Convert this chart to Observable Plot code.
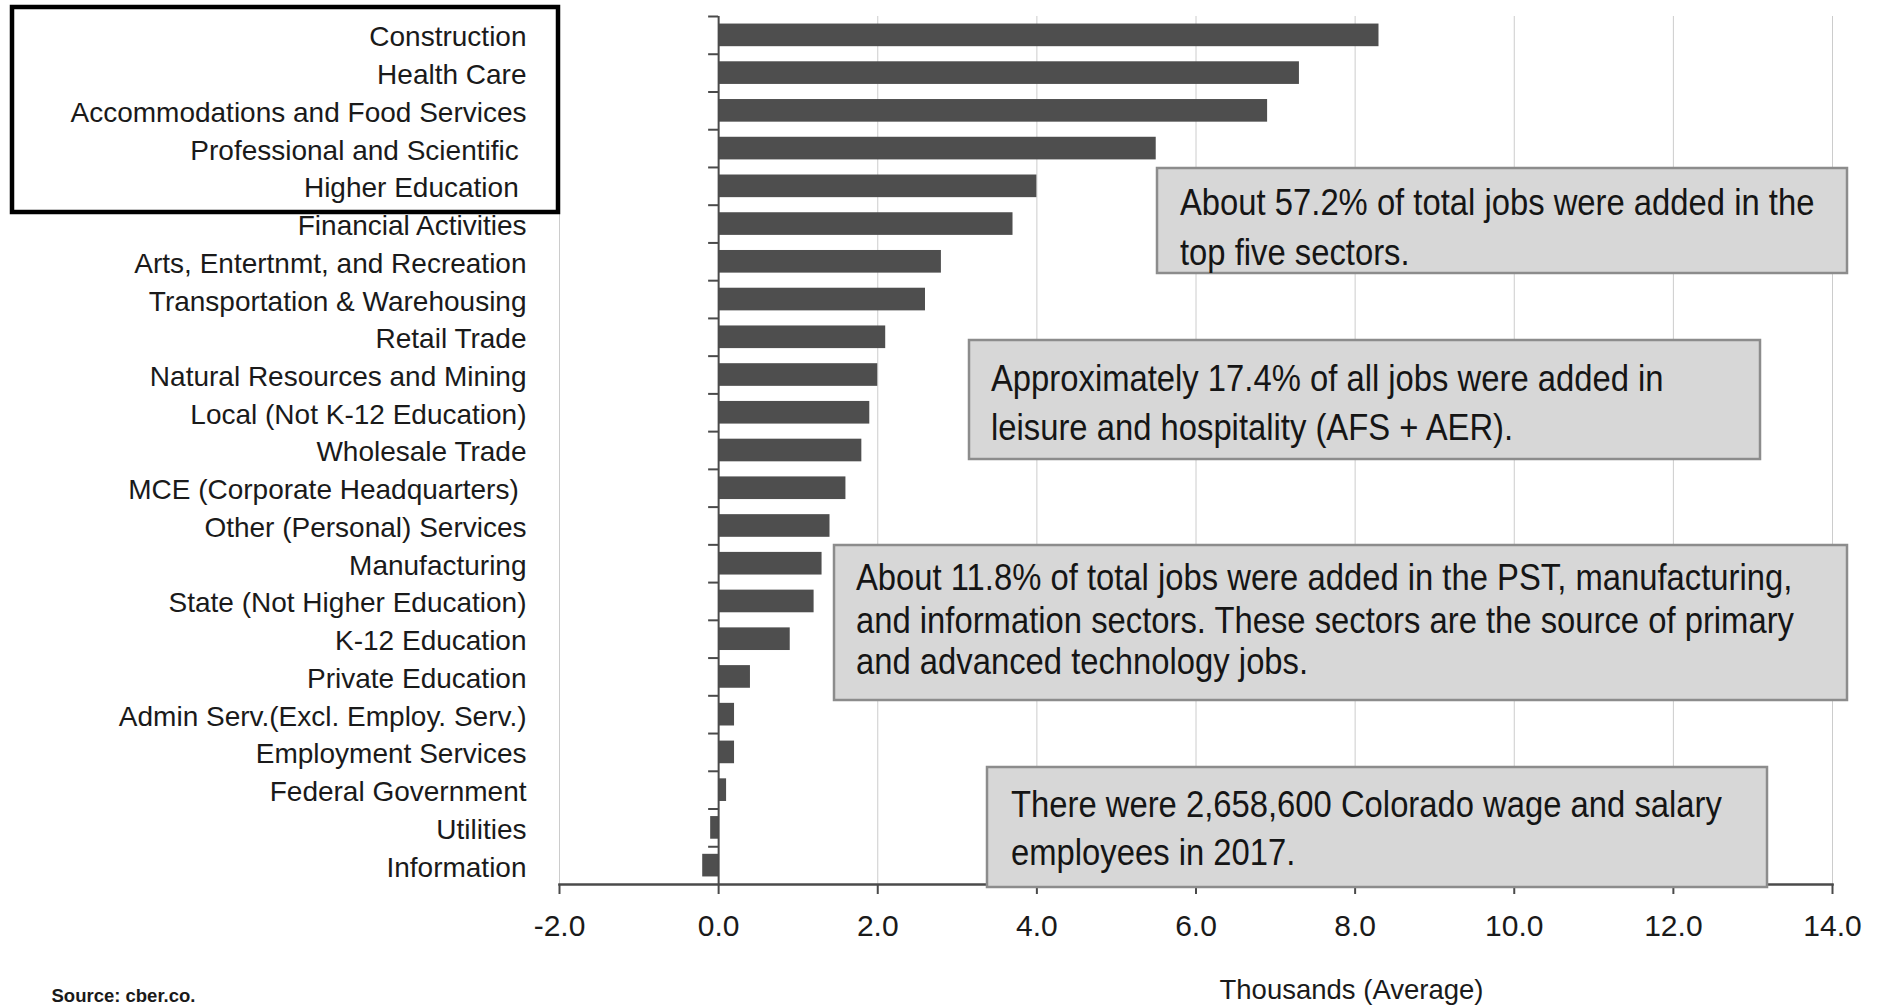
<!DOCTYPE html>
<html><head><meta charset="utf-8">
<script src="https://cdn.jsdelivr.net/npm/d3@7"></script>
<script src="https://cdn.jsdelivr.net/npm/@observablehq/plot@0.6"></script>
<style>
html,body{margin:0;padding:0;background:#fff;}
#chart{position:relative;width:1883px;height:1005px;overflow:hidden;}
</style></head><body><div id="chart"></div>
<script>
const sectors = [
  "Construction",
  "Health Care",
  "Accommodations and Food Services",
  "Professional and Scientific\u00a0",
  "Higher Education\u00a0",
  "Financial Activities",
  "Arts, Entertnmt, and Recreation",
  "Transportation & Warehousing",
  "Retail Trade",
  "Natural Resources and Mining",
  "Local (Not K-12 Education)",
  "Wholesale Trade",
  "MCE (Corporate Headquarters)\u00a0",
  "Other (Personal) Services",
  "Manufacturing",
  "State (Not Higher Education)",
  "K-12 Education",
  "Private Education",
  "Admin Serv.(Excl. Employ. Serv.)",
  "Employment Services",
  "Federal Government",
  "Utilities",
  "Information"
];
const jobsAdded = [8.3, 7.3, 6.9, 5.5, 4.0, 3.7, 2.8, 2.6, 2.1, 2.0, 1.9, 1.8, 1.6, 1.4, 1.3, 1.2, 0.9, 0.4, 0.2, 0.2, 0.1, -0.1, -0.2];
const xTicks = [-2, 0, 2, 4, 6, 8, 10, 12, 14];
const xAxisTitle = "Thousands (Average)";
const sourceNote = "Source: cber.co.";
const noteTexts = [
  ["About 57.2% of total jobs were added in the", "top five sectors."],
  ["Approximately 17.4% of all jobs were added in", "leisure and hospitality (AFS + AER)."],
  ["About 11.8% of total jobs were added in the PST, manufacturing,", "and information sectors. These sectors are the source of primary", "and advanced technology jobs."],
  ["There were 2,658,600 Colorado wage and salary", "employees in 2017."]
];

// layout (pixels)
const W = 1883, H = 1005, mL = 559, mR = 51, mT = 16, mB = 121;
const step = (H - mT - mB) / sectors.length;
const font = "'Liberation Sans',Arial,Helvetica,sans-serif";
const axisColor = "#4a4a4a";

const data = sectors.map((s, i) => ({sector: s, value: jobsAdded[i]}));

const plot = Plot.plot({
  width: W, height: H,
  marginLeft: mL, marginRight: mR, marginTop: mT, marginBottom: mB,
  style: {fontFamily: font, fontSize: "28px", color: "#1a1a1a", background: "#fff", overflow: "visible"},
  x: {domain: [-2, 14], ticks: xTicks},
  y: {domain: sectors, paddingInner: 0.4, paddingOuter: 0.2, round: false},
  marks: [
    Plot.gridX(xTicks, {stroke: "#cccccc", strokeOpacity: 1, strokeWidth: 1}),
    Plot.barX(data, {x1: 0, x2: "value", y: "sector", fill: "#4e4e4e"}),
    Plot.ruleX([0], {stroke: axisColor, strokeWidth: 2}),
    Plot.ruleY(sectors, {y: d => d, x1: 0, x2: 0, insetLeft: -10, dy: -step / 2, stroke: axisColor, strokeWidth: 2}),
    Plot.frame({anchor: "bottom", stroke: axisColor, strokeWidth: 2.5}),
    Plot.axisX(xTicks, {tickSize: 10, tickPadding: 20, tickFormat: d => d.toFixed(1), fontSize: 30, stroke: axisColor, strokeWidth: 2, label: null}),
    Plot.axisY({tickSize: 0, tickPadding: 33, fontSize: 28, dy: 2, label: null}),
    Plot.text([xAxisTitle], {frameAnchor: "bottom", lineAnchor: "bottom", dx: 155.5, dy: 114, fontSize: 27.5}),
    Plot.text([sourceNote], {frameAnchor: "bottom-left", textAnchor: "start", lineAnchor: "bottom", dx: -508, dy: 117, fontSize: 18.5, fontWeight: "bold"})
  ]
});

// annotation boxes (layout only)
const noteLayout = [
  {x: 1157, y: 168, w: 690, h: 105, tx: 1180, base: [215, 265]},
  {x: 969, y: 340, w: 791, h: 119, tx: 991, base: [391, 440]},
  {x: 834, y: 545, w: 1013, h: 155, tx: 856, base: [590, 633, 674]},
  {x: 987, y: 767, w: 780, h: 120, tx: 1011, base: [817, 865]}
];
const svg = d3.select(plot);
const g = svg.append("g").attr("class", "notes").attr("text-anchor", "start");
noteLayout.forEach((b, i) => {
  g.append("rect").attr("x", b.x).attr("y", b.y).attr("width", b.w).attr("height", b.h)
    .attr("fill", "#d7d7d7").attr("stroke", "#8c8c8c").attr("stroke-width", 2.5);
  noteTexts[i].forEach((line, j) => {
    g.append("text")
      .attr("transform", `translate(${b.tx},${b.base[j]}) scale(1,1.12)`)
      .attr("text-anchor", "start")
      .attr("font-family", font).attr("font-size", 32.8).attr("fill", "#151515").text(line);
  });
});
// highlight frame around the top five sectors
svg.append("rect").attr("x", 12).attr("y", 7).attr("width", 546).attr("height", 205)
  .attr("fill", "none").attr("stroke", "#000").attr("stroke-width", 4.5);

document.getElementById("chart").appendChild(plot);
</script>
</body></html>
